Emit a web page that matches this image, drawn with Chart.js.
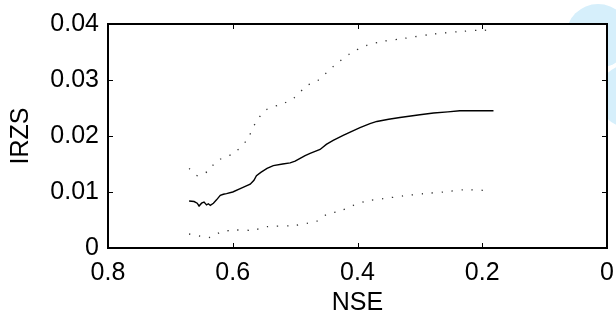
<!DOCTYPE html>
<html>
<head>
<meta charset="utf-8">
<script src="https://cdn.jsdelivr.net/npm/chart.js@4/dist/chart.umd.min.js"></script>
<style>
  html, body { margin: 0; padding: 0; background: #fff; }
  #wrap { width: 616px; height: 322px; position: relative; }
</style>
</head>
<body>
<div id="wrap"><canvas id="irzsChart"></canvas></div>
<script>
// NSE / IRZS values
const nseMid  = [0.670, 0.662, 0.657, 0.654, 0.650, 0.646, 0.642, 0.639, 0.636, 0.631, 0.626, 0.620, 0.615, 0.610, 0.600, 0.588, 0.580, 0.572, 0.566, 0.562, 0.555, 0.545, 0.535, 0.520, 0.508, 0.500, 0.492, 0.484, 0.476, 0.460, 0.450, 0.439, 0.423, 0.410, 0.396, 0.380, 0.369, 0.350, 0.332, 0.300, 0.278, 0.255, 0.236, 0.210, 0.182];
const irzsMid = [0.0084, 0.0083, 0.0080, 0.0075, 0.0080, 0.0082, 0.0077, 0.0079, 0.0076, 0.0080, 0.0086, 0.0094, 0.0096, 0.0097, 0.0100, 0.0106, 0.0110, 0.0114, 0.0121, 0.0129, 0.0135, 0.0142, 0.0147, 0.0150, 0.0152, 0.0155, 0.0160, 0.0165, 0.0169, 0.0176, 0.0185, 0.0192, 0.0201, 0.0208, 0.0215, 0.0222, 0.0226, 0.0230, 0.0233, 0.0238, 0.0241, 0.0243, 0.0245, 0.0245, 0.0245];

const nseUp  = [0.670, 0.656, 0.639, 0.626, 0.599, 0.578, 0.562, 0.546, 0.519, 0.503, 0.481, 0.465, 0.439, 0.412, 0.385, 0.359, 0.327, 0.278, 0.230, 0.198, 0.182];
const irzsUp = [0.0142, 0.0129, 0.0138, 0.0155, 0.0169, 0.0192, 0.0226, 0.0247, 0.0258, 0.0267, 0.0290, 0.0298, 0.0324, 0.0347, 0.0362, 0.0369, 0.0374, 0.0382, 0.0387, 0.0389, 0.0387];

const nseLow  = [0.670, 0.652, 0.636, 0.620, 0.599, 0.567, 0.546, 0.503, 0.481, 0.465, 0.449, 0.428, 0.407, 0.385, 0.359, 0.327, 0.294, 0.262, 0.230, 0.198];
const irzsLow = [0.0025, 0.0021, 0.0019, 0.0028, 0.0032, 0.0032, 0.0038, 0.0040, 0.0044, 0.0048, 0.0060, 0.0066, 0.0076, 0.0084, 0.0088, 0.0093, 0.0097, 0.0100, 0.0104, 0.0103];

const xTicks = [0.8, 0.6, 0.4, 0.2, 0];
const yTicks = [0, 0.01, 0.02, 0.03, 0.04];

const toPoints = (xs, ys) => xs.map((x, i) => ({ x, y: ys[i] }));
const FONT = 'Liberation Sans, Arial, Helvetica, sans-serif';

// watermark behind, white axes box, then frame + inward ticks (matlab style)
const framePlugin = {
    id: 'frame',
    beforeDraw(chart) {
        const { ctx, chartArea: a } = chart;
        ctx.save();
        ctx.fillStyle = '#d6effb';
        ctx.beginPath(); ctx.arc(598, 36, 32, 0, Math.PI * 2); ctx.fill();
        ctx.beginPath(); ctx.arc(630, 96, 32, 0, Math.PI * 2); ctx.fill();
        ctx.fillStyle = '#fff';
        ctx.fillRect(a.left, a.top, a.right - a.left, a.bottom - a.top);
        ctx.restore();
    },
    afterDraw(chart) {
        const { ctx, chartArea: a, scales } = chart;
        ctx.save();
        ctx.strokeStyle = '#000';
        ctx.lineWidth = 1;
        ctx.beginPath();
        xTicks.forEach(v => {
            const px = Math.round(scales.x.getPixelForValue(v)) + 0.5;
            ctx.moveTo(px, a.bottom); ctx.lineTo(px, a.bottom - 5);
            ctx.moveTo(px, a.top); ctx.lineTo(px, a.top + 5);
        });
        yTicks.forEach(v => {
            const py = Math.round(scales.y.getPixelForValue(v)) + 0.5;
            ctx.moveTo(a.left, py); ctx.lineTo(a.left + 5, py);
            ctx.moveTo(a.right, py); ctx.lineTo(a.right - 5, py);
        });
        ctx.stroke();
        ctx.lineWidth = 2;
        ctx.strokeRect(a.left, a.top, a.right - a.left, a.bottom - a.top);
        ctx.restore();
    }
};

new Chart(document.getElementById('irzsChart'), {
    type: 'scatter',
    data: {
        datasets: [
            { data: toPoints(nseMid, irzsMid), showLine: true, borderColor: '#000', borderWidth: 1.4, pointRadius: 0, tension: 0 },
            { data: toPoints(nseUp, irzsUp), showLine: true, borderColor: '#333', borderWidth: 1.3, borderDash: [1.3, 8.7], pointRadius: 0, tension: 0.3 },
            { data: toPoints(nseLow, irzsLow), showLine: true, borderColor: '#333', borderWidth: 1.3, borderDash: [1.3, 8.7], pointRadius: 0, tension: 0.3 }
        ]
    },
    options: {
        responsive: true,
        maintainAspectRatio: false,
        animation: false,
        layout: { padding: { top: 16, right: 0, left: 0, bottom: 0 } },
        plugins: { legend: { display: false }, tooltip: { enabled: false } },
        scales: {
            x: {
                type: 'linear', reverse: true, min: 0, max: 0.8,
                afterFit: s => { s.height = 74; s.paddingLeft = 0; s.paddingRight = 9; },
                afterBuildTicks: s => { s.ticks = xTicks.map(v => ({ value: v })); },
                border: { display: false },
                grid: { display: false, drawTicks: false },
                ticks: { color: '#000', padding: 10, font: { family: FONT, size: 25 }, callback: v => String(+v.toFixed(2)) },
                title: { display: true, text: 'NSE', color: '#000', font: { family: FONT, size: 25 }, padding: { top: 0, bottom: 4 } }
            },
            y: {
                type: 'linear', min: 0, max: 0.04,
                afterFit: s => { s.width = 108; },
                afterBuildTicks: s => { s.ticks = yTicks.map(v => ({ value: v })); },
                border: { display: false },
                grid: { display: false, drawTicks: false },
                ticks: { color: '#000', padding: 9, font: { family: FONT, size: 25 }, callback: v => String(+v.toFixed(3)) },
                title: { display: true, text: 'IRZS', color: '#000', font: { family: FONT, size: 25 }, padding: { top: 6, bottom: 0 } }
            }
        }
    },
    plugins: [framePlugin]
});
</script>
</body>
</html>
